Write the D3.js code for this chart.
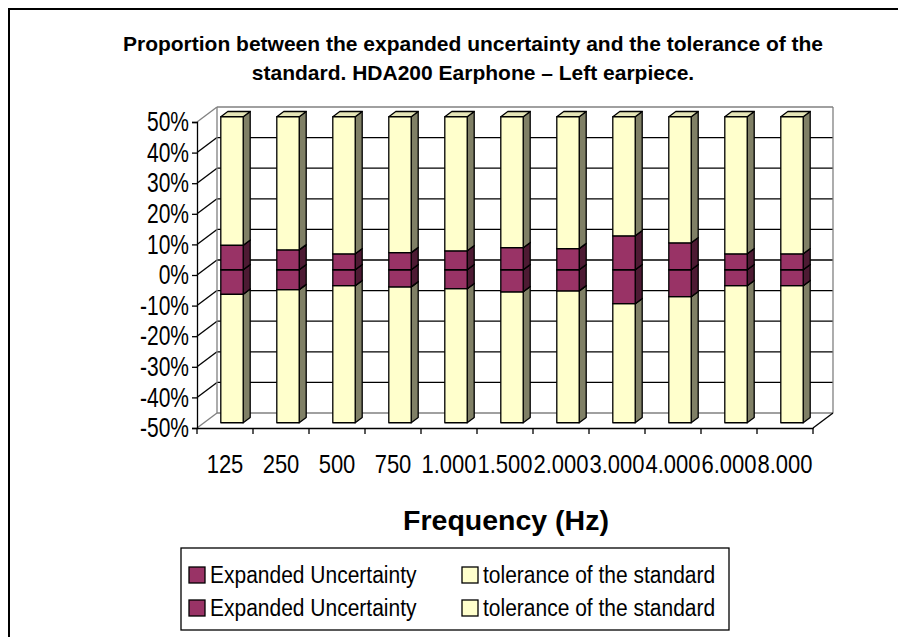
<!DOCTYPE html>
<html>
<head>
<meta charset="UTF-8">
<title></title>
<script src="https://d3js.org/d3.v7.min.js"></script>
<style>
  body { margin: 0; background: #fff; }
  text { font-family: "Liberation Sans", Arial, sans-serif; fill: #000; }
</style>
</head>
<body>
<div id="chart"></div>
<script>
  // data
  const categories = ["125", "250", "500", "750", "1.000", "1.500", "2.000", "3.000", "4.000", "6.000", "8.000"];
  const uncPos = [8.0, 6.5, 5.2, 5.6, 6.2, 7.2, 6.9, 11.1, 8.8, 5.2, 5.2];
  const tolPos = [42.0, 43.5, 44.8, 44.4, 43.8, 42.8, 43.1, 38.9, 41.2, 44.8, 44.8];
  const uncNeg = [-8.0, -6.5, -5.2, -5.6, -6.2, -7.2, -6.9, -11.1, -8.8, -5.2, -5.2];
  const tolNeg = [-42.0, -43.5, -44.8, -44.4, -43.8, -42.8, -43.1, -38.9, -41.2, -44.8, -44.8];
  const yTicks = [-50, -40, -30, -20, -10, 0, 10, 20, 30, 40, 50];
  const legendNames = ["Expanded Uncertainty", "tolerance of the standard", "Expanded Uncertainty", "tolerance of the standard"];

  const width = 898, height = 637;
  const svg = d3.select("#chart").append("svg").attr("width", width).attr("height", height);

  const plot = {left: 197, right: 813, top: 122, bottom: 428};
  const depth = {dx: 20, dy: -15}; // full wall depth
  const d0 = 0.35, d1 = 0.7;       // bars sit in the middle of the depth

  const colors = {
    u: {front: "#993366", side: "#4d1a33", top: "#7a2952"},
    t: {front: "#ffffcc", side: "#808066", top: "#e6e6b8"}
  };

  const yScale = d3.scaleLinear().domain([-50, 50]).range([plot.bottom, plot.top]);
  const xOuter = d3.scaleBand().domain(categories).range([plot.left, plot.right]);
  const xScale = d3.scaleBand().domain(categories).range([plot.left, plot.right]).paddingInner(0.6).paddingOuter(0.3);

  // outer frame
  svg.append("rect").attr("x", 9).attr("y", 9).attr("width", 900).attr("height", 650)
    .attr("fill", "none").attr("stroke", "#000").attr("stroke-width", 2);

  const stretchText = (sel, x, y, sy) => sel.attr("transform", `translate(${x},${y}) scale(1,${sy})`);

  // title
  const title = ["Proportion between the expanded uncertainty and the tolerance of the",
                 "standard. HDA200 Earphone \u2013 Left earpiece."];
  title.forEach((t, i) => {
    svg.append("text").attr("text-anchor", "middle").attr("font-weight", "bold").attr("font-size", 21)
      .text(t).call(stretchText, 473, 50.5 + i * 29, 1.0);
  });

  // walls
  const walls = svg.append("g");
  const bx0 = plot.left + depth.dx, bx1 = plot.right + depth.dx;
  yTicks.forEach(t => {
    const edge = t === -50 || t === 50;
    const col = edge ? "#808080" : "#000";
    walls.append("line").attr("x1", bx0).attr("x2", bx1)
      .attr("y1", yScale(t) + depth.dy).attr("y2", yScale(t) + depth.dy)
      .attr("stroke", col).attr("stroke-width", 1.3);
    walls.append("line").attr("x1", plot.left).attr("x2", bx0)
      .attr("y1", yScale(t)).attr("y2", yScale(t) + depth.dy)
      .attr("stroke", col).attr("stroke-width", 1.3);
  });
  walls.append("line").attr("x1", bx0).attr("x2", bx0)
    .attr("y1", yScale(50) + depth.dy).attr("y2", yScale(-50) + depth.dy).attr("stroke", "#808080").attr("stroke-width", 1.3);
  walls.append("line").attr("x1", bx1).attr("x2", bx1)
    .attr("y1", yScale(50) + depth.dy).attr("y2", yScale(-50) + depth.dy).attr("stroke", "#808080").attr("stroke-width", 1.3);
  // floor right edge
  walls.append("line").attr("x1", plot.right).attr("x2", bx1)
    .attr("y1", plot.bottom).attr("y2", plot.bottom + depth.dy).attr("stroke", "#000").attr("stroke-width", 1.3);

  // stacked data
  const rows = categories.map((c, i) => ({cat: c, u1: uncPos[i], t1: tolPos[i], u2: uncNeg[i], t2: tolNeg[i]}));
  const keys = ["u1", "t1", "u2", "t2"];
  const stacked = d3.stack().keys(keys).offset(d3.stackOffsetDiverging)(rows);

  const segments = [];
  stacked.forEach(layer => {
    layer.forEach(p => {
      segments.push({cat: p.data.cat, lo: Math.min(p[0], p[1]), hi: Math.max(p[0], p[1]), kind: layer.key[0]});
    });
  });

  const bw = xScale.bandwidth();
  const sdx = (d1 - d0) * depth.dx, sdy = (d1 - d0) * depth.dy;
  const bars = svg.append("g");
  categories.forEach(c => {
    const segs = segments.filter(s => s.cat === c).sort((a, b) => a.lo - b.lo);
    const x0 = xScale(c) + d0 * depth.dx, x1 = x0 + bw;
    segs.forEach(s => {
      const col = colors[s.kind];
      const yT = yScale(s.hi) + d0 * depth.dy, yB = yScale(s.lo) + d0 * depth.dy;
      const g = bars.append("g").attr("stroke", "#000").attr("stroke-width", 1.3).attr("stroke-linejoin", "round");
      g.append("polygon").attr("fill", col.side)
        .attr("points", [[x1, yT], [x1 + sdx, yT + sdy], [x1 + sdx, yB + sdy], [x1, yB]].join(" "));
      g.append("polygon").attr("fill", col.top)
        .attr("points", [[x0, yT], [x0 + sdx, yT + sdy], [x1 + sdx, yT + sdy], [x1, yT]].join(" "));
      g.append("rect").attr("fill", col.front)
        .attr("x", x0).attr("y", yT).attr("width", bw).attr("height", yB - yT);
    });
  });

  // y axis
  const yAxis = d3.axisLeft(yScale).tickValues(yTicks).tickFormat(d => d + "%").tickSize(5).tickPadding(3);
  const gY = svg.append("g").attr("transform", `translate(${plot.left},0)`).call(yAxis);
  gY.select(".domain").attr("stroke", "#000").attr("stroke-width", 1.3);
  gY.selectAll(".tick line").attr("stroke", "#000").attr("stroke-width", 1.3);
  gY.selectAll(".tick text").attr("font-size", 21).attr("font-family", null).attr("fill", "#000")
    .attr("transform", "scale(1,1.3)");

  // x axis: labels centred in each category, ticks on the boundaries
  const xAxis = d3.axisBottom(xOuter).tickSize(0).tickPadding(0);
  const gX = svg.append("g").attr("transform", `translate(0,${plot.bottom})`).call(xAxis);
  gX.select(".domain").attr("stroke", "#000").attr("stroke-width", 1.3);
  gX.selectAll(".tick text").attr("font-size", 22).attr("font-family", null).attr("fill", "#000")
    .attr("y", 0).attr("dy", 0).attr("transform", "translate(0,45) scale(1,1.15)");
  const bounds = categories.map(c => xOuter(c)).concat([xOuter.range()[1]]);
  gX.selectAll(".bound").data(bounds).enter().append("line").attr("class", "bound")
    .attr("x1", d => d).attr("x2", d => d).attr("y1", 0).attr("y2", 6)
    .attr("stroke", "#000").attr("stroke-width", 1.3);

  svg.append("text").attr("text-anchor", "middle").attr("font-weight", "bold").attr("font-size", 28.5)
    .text("Frequency (Hz)").call(stretchText, 506, 530, 1.0);

  // legend
  const leg = svg.append("g");
  leg.append("rect").attr("x", 181).attr("y", 548).attr("width", 548).attr("height", 82)
    .attr("fill", "#fff").attr("stroke", "#000").attr("stroke-width", 1.3);
  legendNames.forEach((n, i) => {
    const col = i % 2 === 0 ? colors.u.front : colors.t.front;
    const lx = i % 2 === 0 ? 189 : 462;
    const ly = i < 2 ? 575 : 608;
    leg.append("rect").attr("x", lx).attr("y", ly - 8).attr("width", 16).attr("height", 16)
      .attr("fill", col).attr("stroke", "#000").attr("stroke-width", 1.3);
    leg.append("text").attr("font-size", 21).text(n).call(stretchText, lx + 21, ly + 7.5, 1.12);
  });
</script>
</body>
</html>
